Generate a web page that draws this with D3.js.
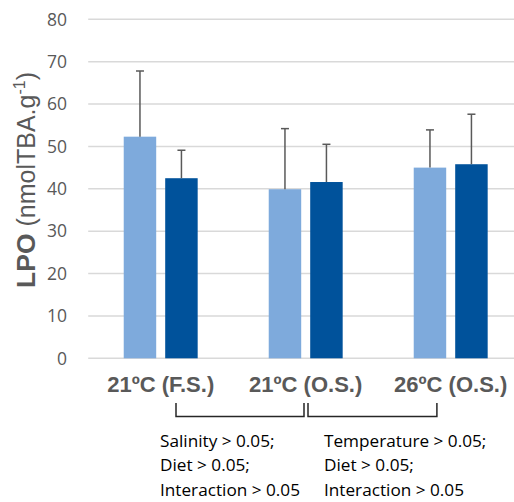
<!DOCTYPE html>
<html><head><meta charset="utf-8">
<script src="https://cdn.jsdelivr.net/npm/d3@7"></script>
<style>
html,body{margin:0;padding:0;background:#fff;}
svg{display:block;}
</style></head>
<body>
<svg id="chart" width="514" height="502"></svg>
<script>
const categories = ["21ºC (F.S.)", "21ºC (O.S.)", "26ºC (O.S.)"];
const seriesNames = ["Light", "Dark"];
const meanLight = [52.3, 39.9, 45.0];
const meanDark  = [42.5, 41.6, 45.8];
const sdLight   = [15.5, 14.3, 8.9];
const sdDark    = [6.6, 8.9, 11.8];
const yTicks = [0, 10, 20, 30, 40, 50, 60, 70, 80];
const notes = [
  ["Salinity > 0.05;", "Diet > 0.05;", "Interaction > 0.05"],
  ["Temperature > 0.05;", "Diet > 0.05;", "Interaction > 0.05"]
];
const colors = ["#7eaadc", "#00529b"];

const data = categories.map((c, i) => ({
  cat: c,
  vals: [
    {s: 0, v: meanLight[i], e: sdLight[i]},
    {s: 1, v: meanDark[i], e: sdDark[i]}
  ]
}));

const svg = d3.select("#chart");
const mLeft = 88.2, mRight = 523.2, mTop = 19.3, mBottom = 358.3;

const x = d3.scaleBand().domain(categories).range([mLeft, mRight])
  .paddingInner(0.49).paddingOuter(0.245);
const x1 = d3.scaleBand().domain([0, 1]).range([0, x.bandwidth()])
  .paddingInner(0.217).paddingOuter(0);
const y = d3.scaleLinear().domain([0, 80]).range([mBottom, mTop]);

// gridlines
svg.append("g").selectAll("line").data(yTicks).join("line")
  .attr("x1", mLeft).attr("x2", mRight)
  .attr("y1", d => y(d)).attr("y2", d => y(d))
  .attr("stroke", "#d9d9d9").attr("stroke-width", 1.4);

// y tick labels
svg.append("g").selectAll("text").data(yTicks).join("text")
  .attr("x", 67).attr("y", d => y(d)).attr("dy", "0.36em")
  .attr("text-anchor", "end")
  .attr("font-family", "'Open Sans', sans-serif").attr("font-size", 17.5)
  .attr("fill", "#595959").text(d => d);

// bars
const groups = svg.append("g").selectAll("g").data(data).join("g")
  .attr("transform", d => `translate(${x(d.cat)},0)`);
groups.selectAll("rect").data(d => d.vals).join("rect")
  .attr("x", d => x1(d.s)).attr("width", x1.bandwidth())
  .attr("y", d => y(d.v)).attr("height", d => y(0) - y(d.v))
  .attr("fill", d => colors[d.s]);

// error bars (upper only)
const capW = 8;
groups.selectAll("line.err").data(d => d.vals).join("line")
  .attr("class", "err")
  .attr("x1", d => x1(d.s) + x1.bandwidth() / 2).attr("x2", d => x1(d.s) + x1.bandwidth() / 2)
  .attr("y1", d => y(d.v)).attr("y2", d => y(d.v + d.e))
  .attr("stroke", "#595959").attr("stroke-width", 1.5);
groups.selectAll("line.cap").data(d => d.vals).join("line")
  .attr("class", "cap")
  .attr("x1", d => x1(d.s) + x1.bandwidth() / 2 - capW / 2).attr("x2", d => x1(d.s) + x1.bandwidth() / 2 + capW / 2)
  .attr("y1", d => y(d.v + d.e)).attr("y2", d => y(d.v + d.e))
  .attr("stroke", "#595959").attr("stroke-width", 1.5);

// category labels
svg.append("g").selectAll("text").data(categories).join("text")
  .attr("x", d => x(d) + x.bandwidth() / 2).attr("y", 392)
  .attr("text-anchor", "middle")
  .attr("font-family", "'Liberation Sans', Arial, sans-serif").attr("font-weight", "bold")
  .attr("font-size", 22).attr("fill", "#595959").text(d => d);

// y axis title
const yt = svg.append("text")
  .attr("transform", "translate(35,180) rotate(-90)")
  .attr("text-anchor", "middle")
  .attr("font-family", "'Liberation Sans', Arial, sans-serif")
  .attr("font-size", 26.5).attr("fill", "#595959");
yt.append("tspan").attr("font-weight", "bold").text("LPO");
yt.append("tspan").attr("font-size", 25).text(" (nmolTBA.g");
yt.append("tspan").attr("font-size", 16).attr("dy", -10).text("-1");
yt.append("tspan").attr("font-size", 25).attr("dy", 10).text(")");

// brackets
const c = categories.map(d => x(d) + x.bandwidth() / 2);
const brackets = [[c[0] + 15.3, c[1] - 1.7], [c[1] + 2.3, c[2] - 13.8]];
const bTop = 403, bBot = 416.5;
svg.append("g").selectAll("path").data(brackets).join("path")
  .attr("d", d => `M${d[0]},${bTop}V${bBot}H${d[1]}V${bTop}`)
  .attr("fill", "none").attr("stroke", "#262626").attr("stroke-width", 1.5);

// notes
const noteX = [160, 324];
notes.forEach((lines, i) => {
  svg.append("g").selectAll("text").data(lines).join("text")
    .attr("x", noteX[i]).attr("y", (d, j) => 446.7 + j * 24.7)
    .attr("font-family", "'Open Sans', sans-serif").attr("font-size", 17.2)
    .attr("fill", "#000").text(d => d);
});
</script>
</body></html>
